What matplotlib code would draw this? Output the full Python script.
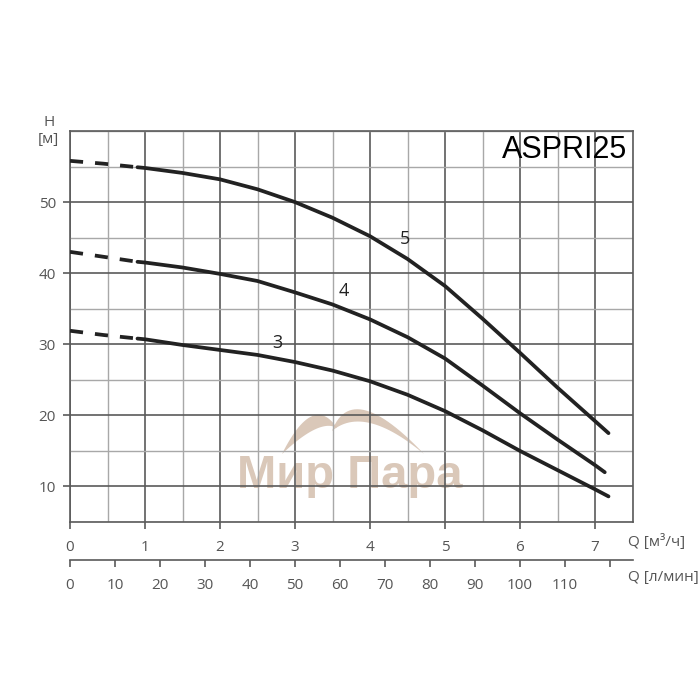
import numpy as np
import matplotlib
matplotlib.use('Agg')
import matplotlib.pyplot as plt
from matplotlib.patches import Polygon
from matplotlib.ticker import MultipleLocator, FixedLocator, FuncFormatter
from matplotlib.transforms import Affine2D

plt.rcParams['font.family'] = ['Open Sans', 'DejaVu Sans']

# ---------------- data ----------------
# dashed (extrapolated) start of each curve
q_dash = [0.0, 0.45, 0.9]
h5_dash = [55.8, 55.4, 54.9]
h4_dash = [43.0, 42.3, 41.6]
h3_dash = [31.9, 31.3, 30.8]

# solid part of each curve
q5 = [0.9, 1.0, 1.5, 2.0, 2.5, 3.0, 3.5, 4.0, 4.5, 5.0, 5.5, 6.0, 6.5, 7.0, 7.18]
h5 = [54.9, 54.8, 54.1, 53.2, 51.8, 50.0, 47.8, 45.2, 42.0, 38.2, 33.6, 28.8, 23.9, 19.2, 17.5]
q4 = [0.9, 1.0, 1.5, 2.0, 2.5, 3.0, 3.5, 4.0, 4.5, 5.0, 5.5, 6.0, 6.5, 7.0, 7.13]
h4 = [41.6, 41.5, 40.8, 39.9, 38.9, 37.3, 35.6, 33.5, 31.0, 28.0, 24.2, 20.3, 16.6, 13.0, 12.0]
q3 = [0.9, 1.0, 1.5, 2.0, 2.5, 3.0, 3.5, 4.0, 4.5, 5.0, 5.5, 6.0, 6.5, 7.0, 7.18]
h3 = [30.8, 30.7, 29.9, 29.2, 28.5, 27.5, 26.3, 24.8, 22.9, 20.6, 17.9, 15.0, 12.3, 9.6, 8.6]

curve_labels = ['3', '4', '5']
label_q = [2.77, 3.65, 4.47]
label_h = [30.2, 37.5, 44.8]

x_ticks_m3h = [0, 1, 2, 3, 4, 5, 6, 7]
y_ticks = [10, 20, 30, 40, 50]
x_ticks_lpm = [0, 10, 20, 30, 40, 50, 60, 70, 80, 90, 100, 110, 120]
title = 'ASPRI25'

# ---------------- figure ----------------
W = H = 700
fig = plt.figure(figsize=(7, 7), dpi=100)
ax = fig.add_axes([70 / W, 1 - 522 / H, 562.5 / W, 391 / H])
ax.set_xlim(0, 7.5)
ax.set_ylim(5, 60)

dark = '#5a5a5a'
light = '#a8a8a8'
txt = '#555555'
fs = 11

ax.set_axisbelow(True)
ax.xaxis.set_major_locator(FixedLocator(x_ticks_m3h))
ax.xaxis.set_minor_locator(MultipleLocator(0.5))
ax.yaxis.set_major_locator(FixedLocator(y_ticks))
ax.yaxis.set_minor_locator(MultipleLocator(5))
ax.grid(which='minor', color=light, lw=1.0)
ax.grid(which='major', color=dark, lw=1.2)
ax.tick_params(which='minor', length=0)
ax.tick_params(which='major', length=5, width=1.2, color=dark,
               labelcolor=txt, labelsize=fs, direction='out')
ax.tick_params(axis='x', pad=8)
ax.tick_params(axis='y', pad=5)
for s in ax.spines.values():
    s.set_color(dark)
    s.set_linewidth(1.2)

# secondary l/min axis
sec = ax.secondary_xaxis(-38 / 391, functions=(lambda q: np.asarray(q) * 1000.0 / 60.0,
                                                 lambda l: np.asarray(l) * 60.0 / 1000.0))
sec.xaxis.set_major_locator(FixedLocator(x_ticks_lpm))
sec.xaxis.set_major_formatter(FuncFormatter(lambda v, p: '' if v > 115 else f'{v:.0f}'))
sec.tick_params(length=5, width=1.2, color=dark, labelcolor=txt, labelsize=fs, pad=8)
sec.spines['bottom'].set_color(dark)
sec.spines['bottom'].set_linewidth(1.2)

# curves
lw = 2.7
for hd, qs, hs in [(h5_dash, q5, h5), (h4_dash, q4, h4), (h3_dash, q3, h3)]:
    ax.plot(q_dash, hd, color='#222222', lw=lw, linestyle=(0, (3.5, 3.2)),
            dash_capstyle='butt', zorder=3)
    ax.plot(qs, hs, color='#222222', lw=lw, solid_capstyle='round',
            solid_joinstyle='round', zorder=3)

for lab, lq, lh in zip(curve_labels, label_q, label_h):
    ax.text(lq, lh, lab, ha='center', va='center', fontsize=13, color='#222222', zorder=4)

ax.text(0.99, 0.931, title, transform=ax.transAxes, ha='right', va='baseline',
        fontsize=22, family='Liberation Sans', color='black', zorder=4)

# axis captions
fig.text(628 / W, 1 - 542 / H, 'Q [м³/ч]', ha='left', va='center', fontsize=fs, color=txt)
fig.text(628 / W, 1 - 578 / H, 'Q [л/мин]', ha='left', va='center', fontsize=fs, color=txt)
fig.text(49 / W, 1 - 122 / H, 'H', ha='center', va='center', fontsize=fs, color=txt)
fig.text(48 / W, 1 - 140 / H, '[м]', ha='center', va='center', fontsize=fs, color=txt)

# watermark (pixel coordinates of the figure)
px = Affine2D().scale(1 / W, -1 / H).translate(0, 1) + fig.transFigure
wm = '#d6c2b2'


def bez(p0, c, p2, n=30):
    t = np.linspace(0, 1, n)[:, None]
    p0, c, p2 = map(np.asarray, (p0, c, p2))
    return (1 - t) ** 2 * p0 + 2 * t * (1 - t) * c + t ** 2 * p2


for p0, cu, cl, p2 in [((282, 454), (313, 392), (320, 418), (337, 428)),
                       ((332, 431), (352, 378), (364, 404), (424, 454))]:
    upper = bez(p0, cu, p2)
    lower = bez(p2, cl, p0)
    poly = Polygon(np.vstack([upper, lower]), closed=True, facecolor=wm,
                   edgecolor='none', transform=px, zorder=0.3, alpha=0.9)
    ax.add_patch(poly)

ax.text(350, 488, 'Мир Пара', transform=px, ha='center', va='baseline', fontsize=34,
        fontweight='bold', family='Liberation Sans', color=wm, zorder=0.3, alpha=0.9)

fig.savefig('out.png', dpi=100)
